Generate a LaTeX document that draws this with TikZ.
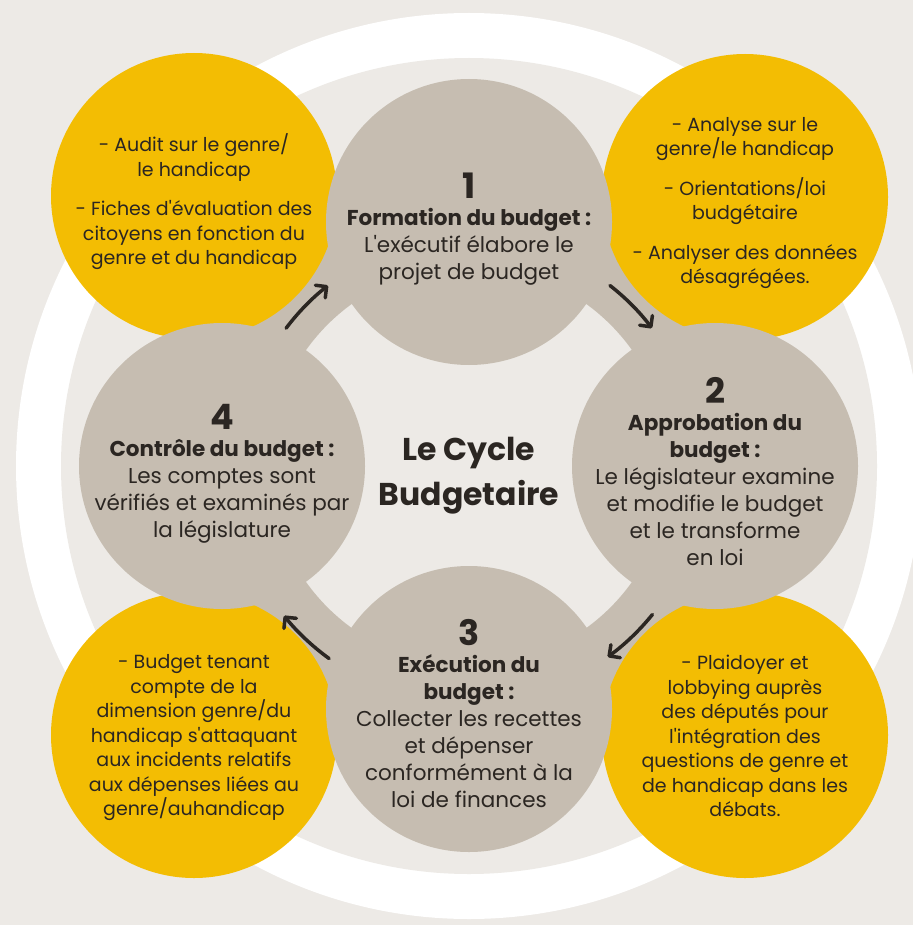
\documentclass[tikz,border=0pt]{standalone}
\usepackage{fontspec}
\setmainfont{Poppins}[Ligatures=TeXOff]
\usetikzlibrary{arrows.meta}

\definecolor{bgrey}{HTML}{EDEAE6}
\definecolor{taupe}{HTML}{C6BDB1}
\definecolor{gold}{HTML}{F3BD03}
\definecolor{ink}{HTML}{2B2622}

\tikzset{
  stage/.style={circle, fill=taupe, minimum size=286pt, inner sep=0pt},
  stagetext/.style={text=ink, align=center, inner sep=0pt, font=\fontsize{21.5}{27}\selectfont},
  note/.style={circle, fill=gold, minimum size=286pt, inner sep=0pt},
  notetext/.style={text=ink, align=center, inner sep=0pt, font=\fontsize{19}{24.5}\selectfont},
  cyclearrow/.style={line width=3.5pt, line cap=round, ink,
    -{Straight Barb[length=8pt,width=16pt,line cap=round,line join=round]}},
}
\newcommand{\stepnum}[1]{{\fontsize{35}{35}\selectfont\bfseries #1}}

\begin{document}
\begin{tikzpicture}[x=1pt,y=-1pt]
    \useasboundingbox (0,0) rectangle (913,925);
    \clip (0,0) rectangle (913,925);
    \fill[bgrey] (0,0) rectangle (913,925);

    \coordinate (ctr) at (469,466);

    % backdrop rings
    \fill[white] (ctr) circle (453pt);
    \fill[bgrey] (ctr) circle (408pt);
    \draw[taupe, line width=70pt] (ctr) circle (235pt);

    % yellow notes
    \node[note] (n1) at (194,196) {};
    \node[note] (n2) at (745,197) {};
    \node[note] (n3) at (745,735) {};
    \node[note] (n4) at (194,735) {};

    \node[notetext] (m1) at ([yshift=-6pt]n1) {- Audit sur le genre/\\le handicap\\[15pt]
      - Fiches d'évaluation des\\citoyens en fonction du\\genre et du handicap};
    \node[notetext] (m2) at ([yshift=-6pt]n2) {- Analyse sur le\\genre/le handicap\\[15pt]
      - Orientations/loi\\budgétaire\\[15pt]
      - Analyser des données\\désagrégées.};
    \node[notetext] (m3) at ([yshift=-1pt]n3) {- Plaidoyer et\\lobbying auprès\\des députés pour\\l'intégration des\\
      questions de genre et\\de handicap dans les\\débats.};
    \node[notetext] (m4) at ([yshift=-3pt]n4) {- Budget tenant\\compte de la\\dimension genre/du\\
      handicap s'attaquant\\aux incidents relatifs\\aux dépenses liées au\\genre/auhandicap};

    % the four stages
    \node[stage] (c1) at (469,222) {};
    \node[stage] (c2) at (715,466) {};
    \node[stage] (c3) at (469,709) {};
    \node[stage] (c4) at (222,466) {};

    \node[stagetext] (t1) at ([yshift=-7pt]c1) {\stepnum{1}\\[0pt]
      \textbf{Formation du budget :}\\L'exécutif élabore le\\projet de budget};
    \node[stagetext] (t2) at ([yshift=-6pt]c2) {\stepnum{2}\\[0pt]
      \textbf{Approbation du}\\\textbf{budget :}\\Le législateur examine\\et modifie le budget\\et le transforme\\en loi};
    \node[stagetext] (t3) at ([yshift=-5pt]c3) {\stepnum{3}\\[0pt]
      \textbf{Exécution du}\\\textbf{budget :}\\Collecter les recettes\\et dépenser\\conformément à la\\loi de finances};
    \node[stagetext] (t4) at ([yshift=-8pt]c4) {\stepnum{4}\\[0pt]
      \textbf{Contrôle du budget :}\\Les comptes sont\\vérifiés et examinés par\\la législature};

    \node[text=ink, align=center, font=\fontsize{31.5}{45}\selectfont\bfseries] (title) at ([yshift=-10pt]ctr)
      {Le Cycle\\Budgetaire};

    % clockwise arrows on the ring
    \draw[cyclearrow] ([shift={(143:229pt)}]ctr) arc[start angle=143, end angle=128, radius=229pt];
    \draw[cyclearrow] ([shift={(52:229pt)}]ctr) arc[start angle=52, end angle=37, radius=229pt];
    \draw[cyclearrow] ([shift={(-39:236pt)}]ctr) arc[start angle=-39, end angle=-54, radius=236pt];
    \draw[cyclearrow] ([shift={(-126:238pt)}]ctr) arc[start angle=-126, end angle=-141, radius=238pt];
\end{tikzpicture}
\end{document}
